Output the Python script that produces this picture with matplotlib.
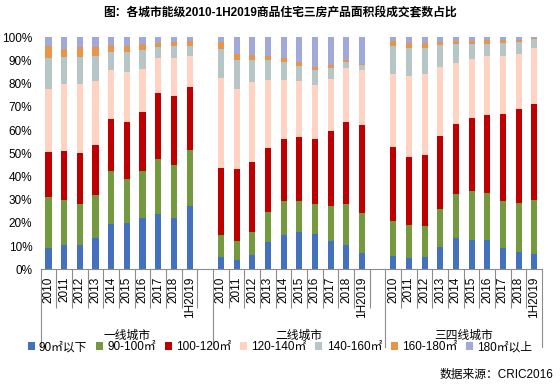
import numpy as np
import matplotlib
matplotlib.use('Agg')
import matplotlib.pyplot as plt
from matplotlib.patches import Patch
import matplotlib.transforms as mtransforms

plt.rcParams['font.family'] = ['Liberation Sans', 'Noto Sans CJK SC', 'DejaVu Sans']

TITULO = '图：各城市能级2010-1H2019商品住宅三房产品面积段成交套数占比'
FUENTE = '数据来源：CRIC2016'

grupos = ['一线城市', '二线城市', '三四线城市']
anios = ['2010', '2011', '2012', '2013', '2014', '2015', '2016', '2017', '2018', '1H2019']
tramos = ['90㎡以下', '90-100㎡', '100-120㎡', '120-140㎡', '140-160㎡', '160-180㎡', '180㎡以上']
colores = ['#4470C0', '#74993F', '#C00000', '#FFD2C2', '#B6C6C7', '#E8954A', '#A0A9D9']

# valores en %, orden: 一线 (10), 二线 (10), 三四线 (10)
v_90_menos = [9.4, 10.7, 10.7, 13.7, 19.5, 20.0, 22.0, 23.8, 22.0, 27.1,
              5.5, 4.2, 6.3, 12.0, 15.0, 16.3, 15.4, 12.4, 10.7, 7.2,
              5.9, 5.0, 5.5, 9.8, 13.3, 12.8, 12.8, 9.4, 7.6, 6.8]
v_90_100 = [21.6, 19.0, 17.3, 18.3, 22.7, 18.8, 20.2, 23.8, 22.8, 24.3,
            9.5, 8.2, 9.6, 12.9, 14.3, 13.0, 12.6, 14.7, 17.3, 16.9,
            15.1, 14.3, 13.4, 16.4, 19.0, 20.8, 19.9, 19.9, 20.8, 23.3]
v_100_120 = [19.4, 21.2, 22.0, 21.5, 22.5, 24.6, 25.5, 28.3, 29.8, 27.1,
             28.9, 30.7, 30.2, 27.3, 26.8, 27.6, 28.1, 32.4, 35.4, 38.0,
             31.6, 29.0, 30.2, 31.1, 30.2, 31.5, 33.7, 37.6, 40.6, 41.1]
v_120_140 = [27.3, 28.9, 29.8, 27.6, 21.2, 21.6, 18.6, 15.2, 16.5, 13.4,
             38.5, 34.6, 34.6, 29.4, 25.5, 24.2, 23.3, 22.5, 23.6, 23.9,
             31.5, 35.0, 35.0, 29.9, 26.4, 25.5, 25.5, 25.0, 23.8, 24.2]
v_140_160 = [13.4, 11.8, 11.8, 11.0, 7.8, 8.7, 8.4, 4.9, 5.3, 4.5,
             12.6, 12.5, 9.5, 8.6, 7.7, 6.5, 6.5, 4.7, 2.3, 2.0,
             12.2, 12.1, 11.3, 9.5, 8.2, 6.5, 5.2, 5.7, 5.2, 3.9]
v_160_180 = [5.3, 3.4, 4.4, 3.9, 3.0, 2.7, 2.6, 1.7, 1.7, 2.2,
             3.1, 2.6, 2.2, 1.7, 1.8, 1.7, 1.3, 1.3, 0.9, 0.5,
             2.1, 2.2, 2.2, 1.3, 1.3, 1.3, 1.7, 1.2, 0.8, 0.4]
v_180_mas = [3.6, 5.0, 4.0, 4.0, 3.3, 3.6, 2.7, 2.3, 1.9, 1.4,
             1.9, 7.2, 7.6, 8.1, 8.9, 10.7, 12.8, 12.0, 9.8, 11.5,
             1.6, 2.4, 2.4, 2.0, 1.6, 1.6, 1.2, 1.2, 1.2, 0.3]

series = [v_90_menos, v_90_100, v_100_120, v_120_140, v_140_160, v_160_180, v_180_mas]

# cada grupo ocupa 11 huecos (10 barras + 1 vacio), el ultimo solo 10
n = len(anios)
pos = np.concatenate([np.arange(n) + g * (n + 1) for g in range(len(grupos))])

fig = plt.figure(figsize=(5.6, 3.87), dpi=100)
ax = fig.add_axes([0.0727, 0.304, 0.8953, 0.5995])

base = np.zeros(len(pos))
for vals, col, lab in zip(series, colores, tramos):
    vals = np.array(vals)
    ax.bar(pos, vals, bottom=base, width=0.39, color=col, label=lab, linewidth=0)
    base += vals

ax.set_ylim(0, 100)
ax.set_xlim(-0.5, len(grupos) * (n + 1) - 1.5)
ax.set_yticks(np.arange(0, 101, 10))
ax.set_yticklabels([f'{v}%' for v in range(0, 101, 10)], fontsize=8.5)
ax.tick_params(axis='y', length=0, pad=6)

ax.set_xticks(pos)
ax.set_xticklabels(anios * len(grupos), rotation=90, fontsize=8.5)
ax.tick_params(axis='x', which='major', length=0, pad=5)

# marcas menores entre barras dentro de cada grupo
limites = []
for g in range(len(grupos)):
    for j in range(n if g < len(grupos) - 1 else n - 1):
        limites.append(g * (n + 1) + j + 0.5)
ax.set_xticks(limites, minor=True)
ax.tick_params(axis='x', which='minor', length=28, width=0.8, color='#8c8c8c', direction='out')

for s in ['top', 'right', 'left']:
    ax.spines[s].set_visible(False)
ax.spines['bottom'].set_color('#8c8c8c')
ax.spines['bottom'].set_linewidth(0.8)

trans = mtransforms.blended_transform_factory(ax.transData, ax.transAxes)
divisores = [-0.5] + [g * (n + 1) + n + 0.5 for g in range(len(grupos) - 1)] + [len(grupos) * (n + 1) - 1.5]
for xd in divisores:
    ax.plot([xd, xd], [0, -0.335], transform=trans, color='#8c8c8c', lw=0.8, clip_on=False)

for g, nombre in enumerate(grupos):
    centro = (g * (n + 1) - 0.5 + min(g * (n + 1) + n + 0.5, len(grupos) * (n + 1) - 1.5)) / 2
    ax.text(centro, -0.286, nombre, transform=trans, ha='center', va='center', fontsize=8.5)

handles = [Patch(facecolor=c, edgecolor='none') for c in colores]
fig.legend(handles, tramos, loc='center', bbox_to_anchor=(0.5, 0.1026), ncol=7, frameon=False,
           fontsize=8.5, handlelength=0.6, handleheight=0.6, handletextpad=0.35, columnspacing=0.75,
           borderaxespad=0, borderpad=0)

fig.text(0.5, 0.964, TITULO, ha='center', va='center', fontsize=8.5, fontweight='bold')
fig.text(0.9875, 0.031, FUENTE, ha='right', va='center', fontsize=8.5)

fig.savefig('out.png', dpi=100, facecolor='white')
